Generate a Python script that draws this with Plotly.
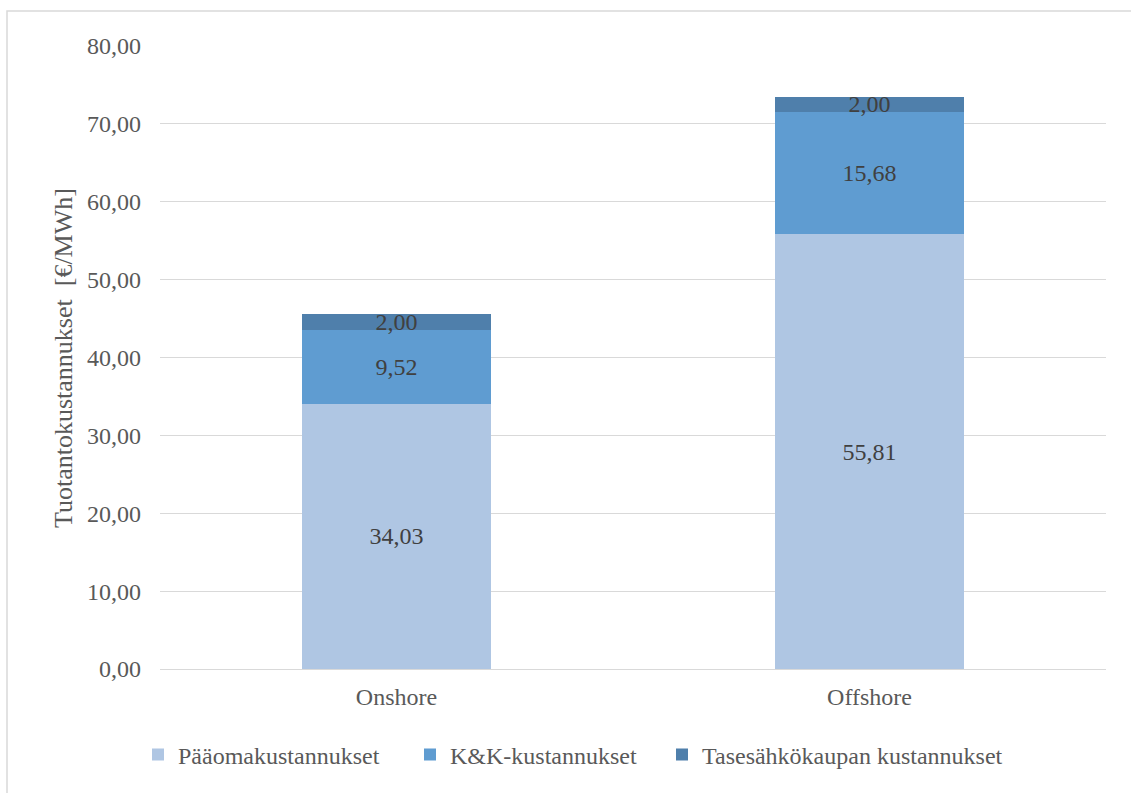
import plotly.graph_objects as go

categories = ["Onshore", "Offshore"]
series_names = ["Pääomakustannukset", "K&K-kustannukset", "Tasesähkökaupan kustannukset"]
paaoma = [34.03, 55.81]
kk = [9.52, 15.68]
tase = [2.00, 2.00]
y_ticks = [0, 10, 20, 30, 40, 50, 60, 70, 80]
y_tick_labels = ["0,00", "10,00", "20,00", "30,00", "40,00", "50,00", "60,00", "70,00", "80,00"]

colors = ["#afc6e3", "#5f9cd1", "#4f7fab"]
FONT = "Liberation Serif"
FS = 24

def fmt(v):
    return f"{v:.2f}".replace(".", ",")

W, H = 1131, 793
L, R, T, B = 160, 25, 46, 124
pw, ph = W - L - R, H - T - B

legend_ids = ["legend", "legend2", "legend3"]
legend_left_px = [138, 410, 662]

fig = go.Figure()
for name, vals, col, lid in zip(series_names, [paaoma, kk, tase], colors, legend_ids):
    fig.add_trace(go.Bar(
        x=categories, y=vals, name=name, legend=lid,
        marker=dict(color=col, line=dict(width=0)),
        text=[fmt(v) for v in vals],
        textposition="inside", insidetextanchor="middle",
        constraintext="none",
        textfont=dict(family=FONT, size=FS, color="#404040"),
        hoverinfo="skip",
    ))

legend_common = dict(orientation="h", xanchor="left", y=(H - B - 755) / ph, yanchor="middle",
                     font=dict(family=FONT, size=FS, color="#595959"),
                     itemwidth=30, bgcolor="rgba(0,0,0,0)")
layout_legends = {lid: dict(legend_common, x=(px - L) / pw) for lid, px in zip(legend_ids, legend_left_px)}

fig.update_layout(
    width=W, height=H,
    barmode="stack", bargap=0.6,
    margin=dict(l=L, r=R, t=T, b=B),
    paper_bgcolor="white", plot_bgcolor="white",
    font=dict(family=FONT, size=FS, color="#595959"),
    showlegend=True,
    **layout_legends,
    xaxis=dict(showgrid=False, showline=True, linecolor="#d9d9d9", linewidth=1,
               ticks="", ticklabelstandoff=6,
               tickfont=dict(family=FONT, size=FS, color="#595959")),
    yaxis=dict(range=[0, 80], tickvals=y_ticks, ticktext=y_tick_labels,
               showgrid=True, gridcolor="#d9d9d9", gridwidth=1,
               zeroline=False, showline=False, ticks="", ticklabelstandoff=18,
               tickfont=dict(family=FONT, size=FS, color="#595959")),
    shapes=[dict(type="rect", xref="paper", yref="paper",
                 x0=(7 - L) / pw, x1=(W + 20 - L) / pw,
                 y0=(H - B - (H + 20)) / ph, y1=(H - B - 11) / ph,
                 line=dict(color="#d9d9d9", width=1.5), fillcolor="rgba(0,0,0,0)", layer="below")],
    annotations=[dict(text="Tuotantokustannukset  [€/MWh]", textangle=-90,
                      xref="paper", yref="paper", x=(63 - L) / pw, y=(H - B - 358) / ph,
                      xanchor="center", yanchor="middle", showarrow=False,
                      font=dict(family=FONT, size=26, color="#595959"))],
)

fig.write_html("out.html")
